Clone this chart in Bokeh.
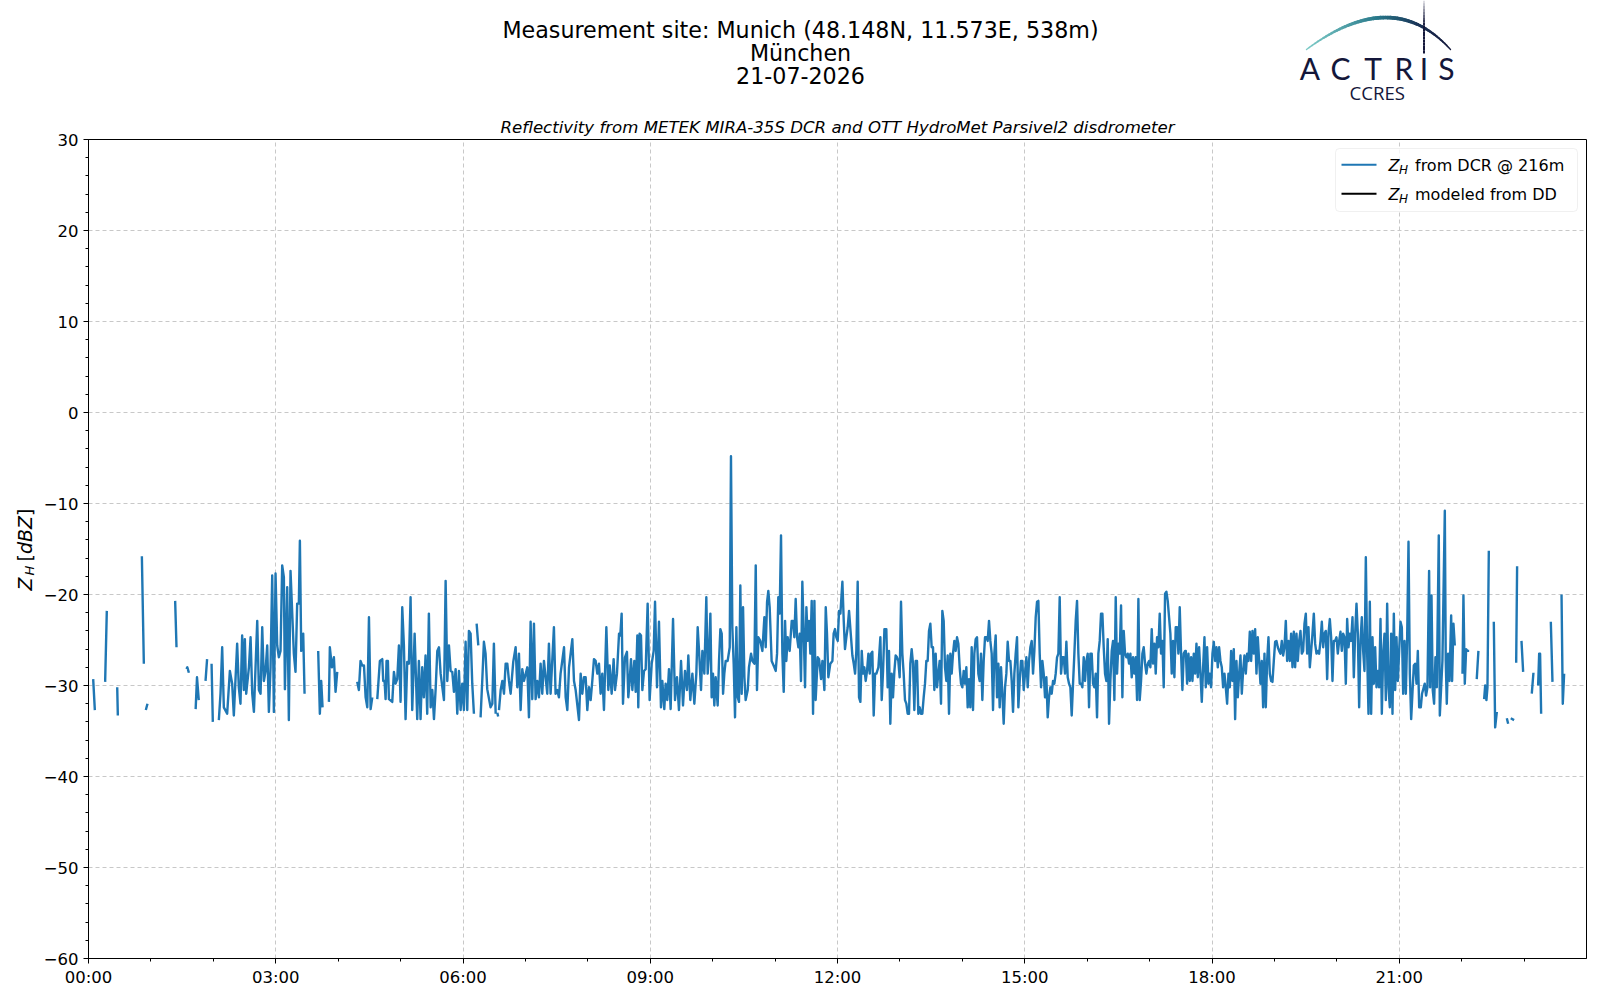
import math
import numpy as np
from bokeh.plotting import figure
from bokeh.layouts import column, row
from bokeh.models import Range1d, FixedTicker, Label, BoxAnnotation, Title
from bokeh.core.properties import value
from bokeh.embed import file_html
from bokeh.resources import INLINE

nan = float("nan")

# ---------------- data (minutes after 00:00 UTC, Z_H in dBZ) ----------------
night_minutes = [
    [4.5, 6.1], [16.0, 17.6], [27.6, 28.2], [51.3, 53.2], [55.1, 56.7],
    [83.3, 84.6], [94.2, 95.0, 96.5], [103.0, 104.3, 106.0], [112.5, 114.0],
    [118.3, 119.5],
    [125.3, 126.9, 128.5, 130.1, 133.3, 135.9, 138.1, 139.7, 142.9, 144.5,
     146.1, 147.7, 149.3, 150.3, 151.6, 154.2, 155.8, 157.4, 159.0, 162.2,
     163.8, 165.4, 167.0, 168.6, 170.2, 171.8, 173.4, 175.0, 176.6, 178.2,
     179.8, 181.4, 183.0, 184.6, 186.2, 187.8, 188.8, 191.0, 192.6, 194.2,
     197.4, 199.0, 200.6, 202.2, 203.2, 204.5, 206.4, 207.7],
    [220.8, 222.4, 223.7, 225.0],
    [231.1, 232.0, 234.0, 235.9, 237.5, 239.1],
    [258.3, 259.9, 261.5, 263.1, 264.8, 266.4, 268.0, 269.6, 271.2, 272.8],
    [277.6, 280.1, 282.4, 283.3, 284.6, 285.6, 286.5, 287.8, 288.8, 292.0,
     293.6, 295.2, 296.8, 298.4, 300.0, 301.6, 303.2, 304.8, 306.4, 308.0,
     309.6, 311.2, 313.5, 316.0, 317.6, 319.2, 320.8, 322.4, 324.0, 325.6,
     327.2, 328.9, 330.5, 332.1, 333.7, 335.3, 336.9, 338.5, 341.7, 343.3,
     344.9, 346.5, 348.1, 349.7, 351.3, 352.9, 354.5, 356.1, 357.7, 359.3,
     360.9, 362.5, 364.1, 365.7, 367.3, 368.9, 370.5],
    [373.1, 374.7],
    [376.9, 378.5, 380.1, 381.7, 383.3, 386.5, 388.2, 389.7, 391.4],
    [393.0, 393.8],
]
night_zh = [
    [-29.3, -32.7], [-29.6, -21.8], [-30.2, -33.3], [-15.8, -27.6], [-32.7, -32.0],
    [-20.7, -25.8], [-28.2, -28.0, -28.6], [-32.6, -29.1, -31.6], [-29.5, -27.1],
    [-27.6, -34.0],
    [-33.8, -30.9, -25.8, -32.4, -33.1, -28.4, -29.8, -33.3, -25.4, -30.2,
     -32.0, -24.5, -30.5, -24.9, -30.9, -28.0, -24.7, -30.9, -32.9, -22.9,
     -30.5, -30.9, -23.6, -29.5, -28.4, -25.6, -32.9, -28.0, -17.9, -32.9,
     -17.7, -25.6, -26.9, -26.2, -16.8, -18.1, -30.4, -19.2, -33.8, -17.4,
     -26.5, -28.5, -21.0, -21.0, -14.1, -26.2, -24.3, -30.9],
    [-26.2, -33.1, -29.5, -32.4],
    [-31.8, -25.8, -28.0, -26.9, -30.7, -28.5],
    [-29.6, -30.5, -27.3, -27.8, -27.8, -31.3, -32.4, -22.5, -32.6, -31.3],
    [-31.5, -27.3, -27.1, -29.5, -29.5, -31.5, -27.3, -27.3, -31.5, -31.8,
     -28.5, -29.8, -29.3, -25.6, -31.8, -21.4, -25.6, -33.7, -27.4, -27.6,
     -20.3, -32.7, -24.3, -33.7, -27.3, -33.7, -28.0, -31.3, -26.7, -33.1,
     -22.1, -32.4, -30.5, -33.7, -30.4, -26.2, -25.8, -28.7, -31.6, -18.5,
     -29.5, -25.6, -28.4, -28.5, -30.7, -28.2, -33.1, -28.4, -32.7, -29.8,
     -32.7, -25.2, -32.7, -24.0, -24.3, -29.8, -33.1],
    [-23.2, -25.6],
    [-33.5, -29.5, -25.2, -26.5, -30.4, -32.4, -32.0, -25.4, -33.1],
    [-33.0, -33.4],
]

day_minutes = [
    394.6, 396.2, 397.8, 399.4, 401.0, 402.6, 404.2, 405.8, 408.3, 410.6,
    412.2, 413.8, 415.4, 417.0, 418.6, 421.8, 423.4, 425.0, 426.6, 428.2,
    429.8, 431.4, 433.0, 434.6, 436.2, 437.8, 441.0, 442.6, 444.2, 447.4,
    449.0, 450.6, 452.2, 453.8, 457.1, 458.7, 460.3, 461.9, 465.1, 466.7,
    468.3, 471.5, 473.1, 474.7, 476.3,
    477.9, 479.5, 481.1, 482.7, 484.3, 485.9, 487.5, 489.1, 490.7, 492.3,
    493.9, 495.5, 497.8, 499.7, 501.0, 502.9, 504.8, 506.1, 508.0, 510.0,
    511.2, 512.5, 513.8, 515.7, 517.6, 518.9, 520.2, 521.5, 522.8, 524.7,
    526.0, 527.6, 528.5, 529.8, 531.1, 532.4, 534.0, 535.6, 537.5, 539.4,
    541.4, 543.3, 544.6, 546.5, 548.4, 550.3, 551.6, 553.5, 554.8, 556.4,
    558.0, 559.6, 561.9, 563.8, 565.7, 567.6, 569.6, 571.5, 573.4, 575.3,
    576.6, 578.5, 580.5, 582.4, 584.3, 585.6, 586.9, 588.8, 590.1, 592.0,
    593.9, 595.2, 596.5, 597.8, 599.0, 600.3, 601.6, 602.9, 604.8, 606.1,
    607.4, 608.7, 610.0, 611.2, 612.5, 614.4, 616.4, 617.6, 618.9, 620.2,
    621.5, 622.8, 624.1, 625.3, 626.6, 627.9, 629.2, 630.5, 631.7, 633.7,
    634.9, 636.9, 638.2, 640.1, 641.4, 642.6, 643.9, 645.8, 647.8, 649.7,
    651.0, 652.3, 653.5, 654.8, 656.7, 659.3, 660.6, 661.9, 663.1, 664.4,
    665.7, 667.0, 668.3, 669.6, 670.8, 672.1, 674.0, 676.0, 677.3, 678.5,
    679.8, 681.1, 682.4, 683.7, 684.9, 686.2, 687.5, 688.8, 690.1, 691.4,
    692.6, 693.9, 695.2, 696.5, 697.8, 699.0, 701.0, 702.3, 704.2, 705.5,
    707.4, 708.7, 709.9, 711.2, 713.1, 715.1, 716.3, 717.6, 718.9, 720.2,
    721.5, 722.8, 724.7, 726.0, 727.2, 728.5, 729.8, 731.1, 733.0, 734.3,
    735.6, 736.9, 738.1, 739.4, 740.7, 742.0, 743.3, 744.5, 745.8, 747.1,
    748.4, 749.7, 751.0, 752.2, 753.5, 754.8, 756.1, 757.4, 759.3, 761.2,
    762.5, 763.8, 765.1,
]
day_zh = [
    -32.7, -30.5, -29.5, -30.9, -27.6, -27.6, -29.5, -30.9, -27.4, -25.8,
    -30.2, -26.5, -32.7, -28.2, -29.5, -28.0, -33.5, -23.0, -31.5, -23.2,
    -31.5, -29.5, -31.3, -27.6, -30.9, -27.3, -30.9, -25.4, -30.9, -23.6,
    -30.9, -30.5, -31.3, -28.7, -25.8, -31.3, -32.7, -28.0, -24.9, -29.5,
    -30.5, -33.8, -28.7, -30.9, -29.1,
    -29.1, -32.7, -30.2, -31.6, -29.5, -27.1, -27.3, -28.7, -27.6, -30.9,
    -28.7, -32.7, -23.6, -30.5, -27.8, -30.9, -27.1, -30.5, -28.7, -24.3,
    -24.5, -22.1, -32.0, -26.9, -26.3, -31.3, -29.5, -27.1, -30.5, -27.3,
    -30.7, -24.5, -32.4, -24.3, -24.5, -30.5, -28.4, -28.2, -21.0, -31.6,
    -27.6, -26.2, -20.8, -30.2, -23.0, -32.4, -29.5, -32.6, -29.8, -31.6,
    -28.2, -32.6, -22.7, -31.6, -29.1, -32.7, -27.3, -32.2, -28.4, -30.5,
    -26.7, -31.6, -28.7, -32.0, -28.7, -23.6, -26.2, -30.5, -26.2, -28.7,
    -20.3, -28.7, -26.5, -22.1, -31.3, -28.7, -32.2, -29.1, -32.2, -27.3,
    -23.8, -24.3, -30.9, -28.7, -27.3, -27.3, -25.8, -4.8, -23.6, -27.6,
    -33.5, -23.6, -31.3, -31.8, -19.0, -30.9, -21.4, -29.1, -31.6, -30.5,
    -28.0, -26.5, -27.3, -27.6, -16.8, -30.5, -24.7, -25.1, -26.2, -22.5,
    -25.8, -20.8, -19.6, -21.4, -27.3, -28.0, -28.4, -26.5, -20.3, -22.1,
    -13.5, -26.5, -30.7, -22.9, -27.3, -24.7, -26.2, -22.9, -22.9, -24.7,
    -20.5, -24.7, -25.8, -24.3, -29.5, -18.6, -24.0, -30.2, -21.4, -25.1,
    -22.9, -26.5, -20.7, -33.1, -20.7, -31.6, -26.9, -27.1, -29.3, -27.3,
    -30.5, -21.4, -24.3, -29.1, -27.6, -27.3, -24.3, -23.8, -24.7, -25.1,
    -21.8, -22.1, -18.6, -22.9, -26.0, -24.7, -23.6, -21.8, -24.7, -26.7,
    -27.6, -28.7, -26.2, -18.6, -31.3, -31.8, -26.2, -28.7, -28.0, -29.5,
    -28.4, -26.5, -28.7, -26.5, -26.3, -33.3, -28.7, -28.7, -28.0, -24.7,
    -31.6, -28.4, -23.8,
]

# regularly sampled stretches (start minute, sampling step in minutes)
afternoon_start, afternoon_step = 766.94, 1.282
afternoon_zh = [
    -23.8, -30.2, -26.2, -34.2, -28.7, -31.3, -28.5, -26.7, -26.9, -27.3, -29.1, -20.8, -26.5, -28.7, -31.6,
    -32.0, -33.1, -33.1, -27.6, -26.0, -27.6, -32.7, -27.3, -27.3, -33.1, -32.4, -33.1, -33.1, -31.3, -29.8,
    -27.3, -27.3, -24.0, -23.2, -25.8, -25.8, -30.5, -26.5, -30.2, -28.7, -27.3, -32.0, -21.8, -22.9, -28.0,
    -29.5, -26.7, -33.1, -26.5, -28.7, -26.5, -25.1, -26.2, -24.7, -25.4, -28.0, -29.8, -30.2, -28.4, -29.8,
    -28.0, -32.4, -29.3, -32.4, -25.8, -32.7, -26.5, -24.9, -24.7, -28.7, -29.5, -26.5, -31.6, -27.3, -24.7,
    -24.7, -25.1, -22.9, -25.1, -26.5, -32.7, -26.5, -24.5, -31.3, -27.6, -32.4, -28.0, -30.9, -34.2, -30.2,
    -28.7, -25.2, -27.3, -27.3, -29.5, -32.9, -28.7, -26.5, -24.7, -32.4, -29.5, -27.3, -27.3, -30.5, -28.7,
    -26.9, -30.2, -27.3, -25.8, -25.1, -28.7, -26.2, -22.5, -20.8, -20.7, -26.5, -30.2, -27.3, -28.7, -31.3,
    -29.1, -33.5, -31.3, -30.2, -30.9, -29.5, -29.8, -28.7, -26.9, -26.5, -20.3, -28.7, -26.9, -26.9, -28.7,
    -25.2, -29.1, -29.8, -30.2, -33.3, -29.8, -26.5, -22.9, -20.7, -26.5, -29.8, -29.8, -30.2, -26.9, -29.5,
    -27.3, -26.5, -32.4, -26.5, -26.5, -29.8, -30.2, -28.7, -33.5, -26.5, -25.1, -22.1, -22.1, -25.8, -28.7,
    -29.5, -24.9, -34.2, -29.5, -26.2, -25.1, -31.6, -20.3, -28.7, -25.4, -26.5, -21.2, -31.3, -24.0, -26.5,
    -26.9, -26.5, -27.6, -26.5, -29.1, -26.9, -28.7, -26.9, -31.6, -20.5, -31.6, -29.5, -26.5, -25.8, -27.6,
    -28.7, -27.6, -27.3, -28.0, -23.8, -27.6, -25.4, -28.7, -24.7, -25.8, -22.1, -26.5, -25.1, -30.2, -19.9,
    -19.7, -20.7, -22.5, -24.3, -28.7, -25.1, -29.1, -23.6, -23.6, -26.5, -21.4, -26.5, -30.5, -26.5, -26.2,
]
evening_start, evening_step = 1054.8, 1.282
evening_zh = [
    -26.2, -29.8, -26.5, -29.5, -26.9, -29.5, -26.5, -28.7, -25.4, -29.1, -25.8, -28.7, -31.8, -28.0, -24.7,
    -30.2, -25.8, -29.8, -28.7, -30.2, -26.5, -25.2, -27.3, -25.8, -28.0, -25.8, -27.3, -28.0, -30.2, -28.7,
    -30.2, -32.0, -28.7, -30.2, -26.2, -29.5, -26.0, -33.7, -27.3, -31.3, -28.7, -26.7, -30.9, -28.4, -26.7,
    -28.7, -26.5, -27.3, -24.1, -27.3, -24.0, -26.5, -23.8, -28.7, -24.7, -27.3, -29.8, -27.3, -32.4, -26.5,
    -32.4, -27.3, -24.7, -28.7, -29.5, -29.6, -27.3, -25.2, -25.1, -25.8, -26.2, -26.5, -25.1, -26.7, -25.8,
    -22.9, -27.3, -25.1, -27.3, -24.3, -28.0, -24.1, -28.0, -24.3, -27.3, -25.1, -24.0, -26.5, -26.2, -23.2,
    -22.1, -26.5, -23.6, -28.0, -26.2, -24.3, -22.1, -25.4, -26.5, -26.2, -26.5, -25.1, -23.0, -25.8, -24.3,
    -24.0, -29.3, -24.3, -22.7, -24.7, -29.5, -25.1, -25.1, -24.7, -26.5, -25.1, -24.1, -26.2, -24.3, -24.7,
    -29.8, -22.7, -25.8, -24.3, -25.1, -22.5, -29.1, -24.3, -21.0, -24.3, -32.4, -25.1, -22.5, -26.2, -28.4,
    -15.9, -26.5, -33.1, -20.8, -33.1, -24.7, -29.8, -25.8, -30.2, -28.4, -30.2, -22.7, -33.1, -26.5, -24.3,
    -31.6, -21.0, -30.2, -32.4, -24.3, -33.1, -22.1, -30.5, -24.7, -29.5, -26.2, -23.0, -23.6, -30.9, -25.1,
    -30.9, -24.7, -14.2, -28.7, -33.7, -30.7, -27.8, -27.6, -29.8, -26.2, -32.4,
]

late_minutes = [
    [1280.7, 1281.9, 1284.5, 1285.8, 1287.1, 1288.7, 1289.7, 1291.0, 1292.2, 1293.5,
     1294.8, 1296.1, 1298.0, 1299.0, 1301.5, 1303.8, 1304.7, 1305.7, 1307.0, 1308.3,
     1309.9, 1310.8, 1312.1, 1313.4],
    [1320.8, 1321.7, 1323.0, 1324.3, 1325.6, 1327.2],
    [1334.5, 1336.1],
    [1341.6, 1342.6, 1343.8, 1344.8, 1346.1],
    [1350.9, 1352.2, 1353.8],
    [1363.4, 1364.7],
    [1367.2, 1370.4],
    [1372.4, 1373.3],
    [1377.5, 1379.1],
    [1387.4, 1389.0],
    [1393.5, 1394.5, 1395.4, 1396.4],
    [1405.7, 1407.3],
    [1416.0, 1417.2, 1418.5],
]
late_zh = [
    [-32.4, -30.9, -29.8, -31.1, -30.2, -17.4, -30.2, -20.1, -30.5, -32.0,
     -26.9, -30.2, -13.5, -33.3, -27.3, -10.8, -27.3, -32.0, -26.5, -29.5,
     -22.3, -29.5, -23.2, -25.6],
    [-28.7, -20.1, -29.8, -26.0, -26.2, -26.2],
    [-29.3, -26.2],
    [-31.5, -30.0, -31.6, -30.2, -15.2],
    [-23.0, -34.6, -32.9],
    [-33.6, -34.2],
    [-33.6, -33.8],
    [-27.5, -16.9],
    [-25.1, -28.5],
    [-30.9, -28.6],
    [-30.0, -26.5, -26.5, -33.1],
    [-23.0, -29.6],
    [-20.0, -32.0, -28.7],
]

# Z_H modelled from the disdrometer: no valid samples on this day
dd_minutes = []
dd_zh = []

x_major_ticks = [0, 180, 360, 540, 720, 900, 1080, 1260]
x_tick_labels = ["00:00", "03:00", "06:00", "09:00", "12:00", "15:00", "18:00", "21:00"]
y_major_ticks = [-60, -50, -40, -30, -20, -10, 0, 10, 20, 30]
y_tick_labels = ["\u221260", "\u221250", "\u221240", "\u221230", "\u221220", "\u221210", "0", "10", "20", "30"]


# ---------------- assemble the series ----------------
def join_segments(seg_t, seg_v):
    xs, ys = [], []
    for t, v in zip(seg_t, seg_v):
        assert len(t) == len(v), (len(t), len(v))
        if xs:
            xs.append(nan)
            ys.append(nan)
        xs.extend(t)
        ys.extend(v)
    return xs, ys


assert len(day_minutes) == len(day_zh), (len(day_minutes), len(day_zh))
nx, ny = join_segments(night_minutes, night_zh)
aft_t = list(afternoon_start + afternoon_step * np.arange(len(afternoon_zh)))
eve_t = list(evening_start + evening_step * np.arange(len(evening_zh)))
block_t = day_minutes + aft_t + eve_t + late_minutes[0]
block_v = day_zh + afternoon_zh + evening_zh + late_zh[0]
rx, ry = join_segments(late_minutes[1:], late_zh[1:])
dcr_t = nx + [nan] + block_t + [nan] + rx
dcr_v = ny + [nan] + block_v + [nan] + ry

# ---------------- layout constants (page pixels) ----------------
PAGE_W, PAGE_H = 1600, 1000
LAB_W = 40                      # strip holding the y-axis label
FRAME_L, FRAME_T = 88, 139      # plot frame left/top on the page
FW, FH = 1498, 819
HEAD_H = 105
W = PAGE_W - LAB_W
BL = FRAME_L - LAB_W
BR = W - BL - FW
BT = FRAME_T - HEAD_H
MAIN_H = PAGE_H - HEAD_H
BB = MAIN_H - BT - FH
XMAX = 1440.0
FONT = "DejaVu Sans"
NAVY = "#14173a"
MID = 0.346        # DejaVu Sans: em-box middle above the baseline (fraction of size)


def xd(px):
    return (px - FRAME_L) * XMAX / FW


def yd(py):
    return 30.0 - (py - FRAME_T) * 90.0 / FH


# ---------------- header figure (page coordinates) ----------------
h = figure(width=W, height=HEAD_H, x_range=Range1d(FRAME_L, FRAME_L + FW),
           y_range=Range1d(HEAD_H, 0), output_backend="svg", toolbar_location=None,
           title=None, x_axis_type=None, y_axis_type=None,
           min_border_left=BL, min_border_right=BR, min_border_top=0, min_border_bottom=0)
h.outline_line_color = None
h.background_fill_color = "white"
h.border_fill_color = "white"

h.text(x=[800, 800, 800], y=[29, 52, 75],
       text=["Measurement site: Munich (48.148N, 11.573E, 538m)", "München", "21-07-2026"],
       text_font=value(FONT), text_font_size="22.2px", text_align="center",
       text_baseline="middle", text_color="black")

# ACTRIS logo: gradient arc, vertical stroke, letters
tt = np.linspace(0.0, 1.0, 61)
P0, P1, P2 = (1306.0, 49.0), (1392.0, -15.0), (1450.0, 49.0)
bx = (1 - tt) ** 2 * P0[0] + 2 * tt * (1 - tt) * P1[0] + tt ** 2 * P2[0]
by = (1 - tt) ** 2 * P0[1] + 2 * tt * (1 - tt) * P1[1] + tt ** 2 * P2[1]
stops = [(0.0, (126, 204, 200)), (0.45, (40, 120, 138)), (0.75, (26, 50, 86)), (1.0, (20, 23, 58))]


def grad(s):
    for (s0, c0), (s1, c1) in zip(stops[:-1], stops[1:]):
        if s <= s1:
            f = (s - s0) / (s1 - s0)
            c = [int(round(a + (b - a) * f)) for a, b in zip(c0, c1)]
            return "#%02x%02x%02x" % tuple(c)
    return "#%02x%02x%02x" % stops[-1][1]


mids = 0.5 * (tt[:-1] + tt[1:])
h.segment(x0=bx[:-1], y0=by[:-1], x1=bx[1:], y1=by[1:],
          line_color=[grad(s) for s in mids],
          line_width=[1.3 + 2.4 * math.sin(math.pi * s) for s in mids], line_cap="round")
vy = np.linspace(0, 53, 20)
h.segment(x0=[1423.5] * 19, y0=vy[:-1], x1=[1423.5] * 19, y1=vy[1:], line_color=NAVY,
          line_width=2, line_alpha=[min(1.0, 0.15 + 0.1 * i) for i in range(19)])
h.text(x=[1309.5, 1340.0, 1372.5, 1403.3, 1423.5, 1445.8], y=[67.0] * 6,
       text=["A", "C", "T", "R", "I", "S"], text_font=value("Lato"), text_font_size="30px",
       text_align="center", text_baseline="middle", text_color=NAVY)
h.text(x=[1376.7], y=[91.7], text=["CCRES"], text_font=value("Open Sans"),
       text_font_size="18.6px", text_align="center", text_baseline="middle", text_color=NAVY)

# ---------------- y-label strip (page coordinates, y measured upward) ----------------
lab = figure(width=LAB_W, height=PAGE_H, x_range=Range1d(0, LAB_W), y_range=Range1d(0, PAGE_H),
             output_backend="svg", toolbar_location=None, title=None,
             x_axis_type=None, y_axis_type=None, min_border=0)
lab.outline_line_color = None
lab.background_fill_color = "white"
lab.border_fill_color = "white"
# (text, baseline x, start y, style, size in px)
ylab_parts = [("Z", 31.0, 590.0, "italic", 19.0),
              ("H", 33.5, 575.0, "italic", 13.0),
              ("[", 31.0, 561.0, "normal", 19.0),
              ("dBZ", 31.0, 553.6, "italic", 19.0),
              ("]", 31.0, 515.5, "normal", 19.0)]
for txt, bxl, py, style, size in ylab_parts:
    lab.text(x=[bxl - MID * size], y=[PAGE_H - py], text=[txt], angle=math.pi / 2,
             text_font=value(FONT), text_font_style=style, text_font_size="%.1fpx" % size,
             text_align="left", text_baseline="middle", text_color="black")

# ---------------- main figure ----------------
p = figure(width=W, height=MAIN_H, x_range=Range1d(0, XMAX), y_range=Range1d(-60, 30),
           output_backend="svg", toolbar_location=None, title=None,
           min_border_left=BL, min_border_right=BR, min_border_top=BT, min_border_bottom=BB)
p.background_fill_color = "white"
p.border_fill_color = "white"
p.outline_line_color = "black"
p.outline_line_width = 1
p.outline_line_alpha = 1.0

p.add_layout(Title(text="Reflectivity from METEK MIRA-35S DCR and OTT HydroMet Parsivel2 disdrometer",
                   align="center", text_font=FONT, text_font_style="italic",
                   text_font_size="16.6px", text_color="black", standoff=5), "above")

p.xaxis.ticker = FixedTicker(ticks=x_major_ticks, minor_ticks=list(range(0, 1440, 60)))
p.xaxis.major_label_overrides = dict(zip(x_major_ticks, x_tick_labels))
p.yaxis.ticker = FixedTicker(ticks=y_major_ticks, minor_ticks=list(range(-60, 31, 2)))
p.yaxis.major_label_overrides = dict(zip(y_major_ticks, y_tick_labels))
for ax in (p.xaxis[0], p.yaxis[0]):
    ax.axis_line_color = "black"
    ax.axis_line_width = 1
    ax.major_tick_line_color = "black"
    ax.minor_tick_line_color = "black"
    ax.major_tick_in = 0
    ax.major_tick_out = 5
    ax.minor_tick_in = 0
    ax.minor_tick_out = 3
    ax.major_label_text_font = FONT
    ax.major_label_text_font_size = "16.5px"
    ax.major_label_text_color = "black"
p.xaxis.major_label_standoff = 4
p.yaxis.major_label_standoff = 5

p.xgrid.ticker = FixedTicker(ticks=x_major_ticks)
p.ygrid.ticker = FixedTicker(ticks=y_major_ticks)
for g in (p.xgrid[0], p.ygrid[0]):
    g.grid_line_color = "#c8c8c8"
    g.grid_line_dash = "4 3"
    g.grid_line_width = 1

p.line(dcr_t, dcr_v, line_color="#1f77b4", line_width=2.4, line_join="round")
p.line(dd_minutes, dd_zh, line_color="black", line_width=2)

# legend
p.add_layout(BoxAnnotation(left=xd(1335), right=xd(1577), top=yd(148), bottom=yd(211),
                           fill_color="white", fill_alpha=0.8, line_color="#cccccc",
                           line_width=1, border_radius=4))
p.segment(x0=[xd(1341), xd(1341)], y0=[yd(164.3), yd(193.3)],
          x1=[xd(1376), xd(1376)], y1=[yd(164.3), yd(193.3)],
          line_color=["#1f77b4", "black"], line_width=2, level="overlay")
leg_rows = [(170.5, "from DCR @ 216m"), (199.5, "modeled from DD")]
for base, rest in leg_rows:
    p.add_layout(Label(x=xd(1388), y=yd(base - MID * 16), text="Z", text_font=FONT,
                       text_font_style="italic", text_font_size="16px",
                       text_baseline="middle", text_color="black"))
    p.add_layout(Label(x=xd(1398.5), y=yd(base + 3.0 - MID * 12), text="H", text_font=FONT,
                       text_font_style="italic", text_font_size="12px",
                       text_baseline="middle", text_color="black"))
    p.add_layout(Label(x=xd(1414.5), y=yd(base - MID * 16), text=rest, text_font=FONT,
                       text_font_size="16px", text_baseline="middle", text_color="black"))

layout = row(lab, column(h, p, spacing=0), spacing=0)
open("out.html", "w").write(file_html(layout, INLINE))
